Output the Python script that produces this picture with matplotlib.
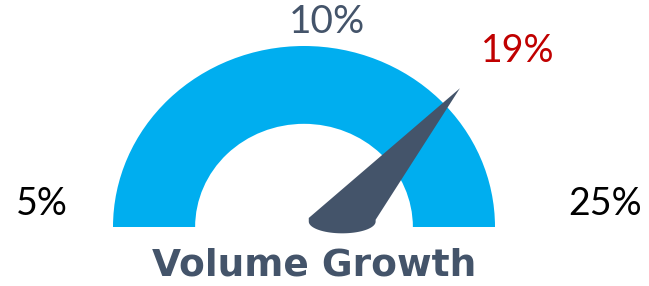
import numpy as np
import matplotlib.pyplot as plt
from matplotlib.patches import Wedge, Polygon

# gauge data
scale_labels = ['5%', '10%', '25%']
needle_value = 19      # %
needle_scale_max = 25  # % at the right end of the dial
value_label = '19%'
title = 'Volume Growth'

blue = '#00AEEF'
slate = '#44546A'
red = '#C00000'

plt.rcParams['font.family'] = ['Lato', 'DejaVu Sans']

W, H = 649, 286
fig = plt.figure(figsize=(W / 100, H / 100), dpi=100)
ax = fig.add_axes([0, 0, 1, 1])

# dial centre sits at pixel (304, 227); radius 191 px wide, 181 px tall
cx, cy = 304, 227
rx, ry = 191, 181
ax.set_xlim(-cx / rx, (W - cx) / rx)
ax.set_ylim(-(H - cy) / ry, cy / ry)
ax.axis('off')

# half doughnut
ax.add_patch(Wedge((0, 0), 1.0, 0, 180, width=0.43, facecolor=blue, edgecolor='none'))

# needle
ang = np.pi * (1 - needle_value / needle_scale_max)
tip = (1.12 * np.cos(ang), 1.12 * np.sin(ang))
bc_x, bc_y = 0.20, 0.03
t = np.linspace(np.pi, 2 * np.pi, 40)
cap = np.column_stack([bc_x + 0.175 * np.cos(t), bc_y + 0.065 * np.sin(t)])
pts = np.vstack([[tip], [[bc_x - 0.175, bc_y + 0.02]], cap, [[bc_x + 0.175, bc_y + 0.01]]])
ax.add_patch(Polygon(pts, closed=True, facecolor=slate, edgecolor='none'))

# labels (pixel positions converted to figure fraction)
def px(x, y):
    return x / W, 1 - y / H

fig.text(*px(42, 204), scale_labels[0], fontsize=27, color='black', ha='center', va='center')
fig.text(*px(327, 22), scale_labels[1], fontsize=28, color=slate, ha='center', va='center')
fig.text(*px(605, 204), scale_labels[2], fontsize=27, color='black', ha='center', va='center')
fig.text(*px(518, 51), value_label, fontsize=27, color=red, ha='center', va='center')
fig.text(*px(314, 266), title, fontsize=27, color=slate, fontweight='bold',
         family=['DejaVu Sans'], ha='center', va='center')

fig.savefig('out.png', dpi=100)
